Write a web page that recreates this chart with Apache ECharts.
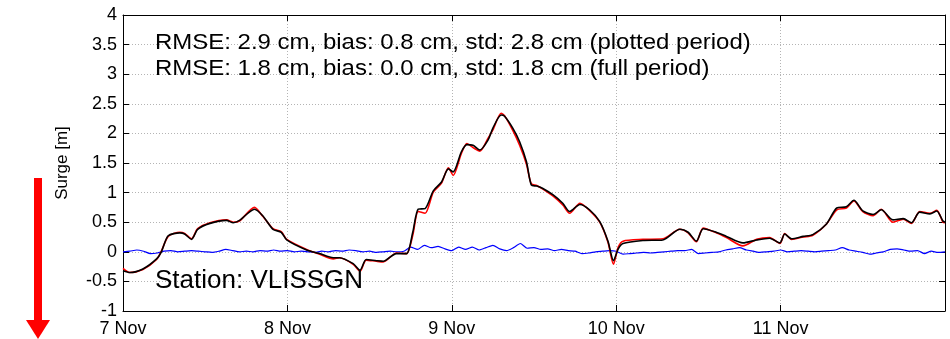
<!DOCTYPE html>
<html>
<head>
<meta charset="utf-8">
<script src="https://cdn.jsdelivr.net/npm/echarts@6/dist/echarts.min.js"></script>
<style>
  html, body { margin: 0; padding: 0; background: #fff; }
  #chart { width: 950px; height: 339px; }
</style>
</head>
<body>
<div id="chart"></div>
<script>
// Time in hours since 7 Nov 00:00
const hours = [0,1.0,2.9,4.9,5.6,6.6,8.3,9.0,10.0,10.9,12.7,15.1,16.1,17.0,19.2,20.4,21.9,23.1,23.9,26.8,
  28.7,30.7,31.6,33.6,34.6,35.5,37.0,38.0,39.9,41.4,42.3,43.1,44.1,45.3,46.5,47.5,48.2,49.4,50.2,51.1,
  52.1,53.3,54.0,55.2,55.7,56.9,57.9,58.9,59.6,60.4,61.3,62.8,64.2,65.2,66.7,68.1,69.6,70.8,71.6,72.3,
  73.0,75.9,78.8,81.3,82.5,83.7,84.7,86.6,88.1,90.5,92.5,94.4,95.9,96.6,97.6,99.3,100.7,102.7,104.2,105.6,
  106.7,108.0,109.5,110.7,112.4,113.9,115.1,116.3,117.8,118.8,119.7,120];

// Observed surge [m]
const observed = [-0.28,-0.35,-0.30,-0.13,0.01,0.26,0.33,0.31,0.22,0.39,
  0.49,0.54,0.50,0.52,0.75,0.60,0.39,0.34,0.21,0.04,
  -0.04,-0.12,-0.10,-0.21,-0.33,-0.14,-0.16,-0.17,-0.02,-0.03,
  0.28,0.68,0.65,1.01,1.16,1.42,1.29,1.66,1.83,1.76,
  1.70,1.92,2.06,2.34,2.30,2.05,1.80,1.48,1.15,1.12,
  1.06,0.94,0.79,0.65,0.82,0.70,0.50,0.16,-0.21,0.08,
  0.18,0.21,0.22,0.38,0.32,0.17,0.40,0.32,0.24,0.10,
  0.21,0.24,0.14,0.31,0.21,0.25,0.28,0.47,0.71,0.74,
  0.86,0.68,0.61,0.72,0.50,0.55,0.48,0.68,0.65,0.70,
  0.50,0.49];

// Modelled surge [m]
const modelled = [-0.32,-0.35,-0.29,-0.12,0.00,0.27,0.32,0.30,0.21,0.38,
  0.48,0.53,0.49,0.53,0.72,0.61,0.38,0.33,0.20,0.03,
  -0.03,-0.10,-0.10,-0.20,-0.31,-0.13,-0.15,-0.16,-0.03,-0.03,
  0.33,0.72,0.73,1.03,1.18,1.40,1.35,1.69,1.81,1.80,
  1.72,1.89,2.09,2.31,2.29,2.09,1.86,1.52,1.13,1.11,
  1.07,0.96,0.82,0.68,0.80,0.71,0.51,0.18,-0.15,0.05,
  0.14,0.19,0.20,0.38,0.33,0.18,0.39,0.33,0.26,0.15,
  0.20,0.23,0.15,0.30,0.22,0.26,0.29,0.47,0.74,0.76,
  0.87,0.69,0.63,0.71,0.54,0.56,0.49,0.67,0.64,0.69,
  0.52,0.50];

// Difference, sampled hourly from 7 Nov 00:00
const difference = [0.00,0.01,0.03,0.01,-0.03,-0.02,0.01,0.02,0.00,0.01,
  0.02,0.01,0.00,-0.01,0.01,0.04,0.02,0.00,0.01,0.00,
  0.02,0.01,0.03,0.01,0.02,0.00,0.01,0.00,-0.01,0.01,
  0.00,0.02,0.01,0.03,0.02,0.00,0.01,-0.01,0.00,0.01,
  0.00,0.01,0.08,0.04,0.11,0.07,0.09,0.05,0.02,0.08,
  0.04,0.08,0.03,0.07,0.11,0.05,0.02,0.07,0.14,0.06,
  0.07,0.04,0.05,0.02,0.04,0.02,0.01,-0.03,-0.02,0.00,
  0.01,0.02,0.01,-0.04,-0.03,-0.02,-0.01,-0.02,-0.01,0.00,
  0.01,0.02,0.02,0.04,-0.03,-0.02,-0.01,0.00,0.03,0.05,
  0.07,0.03,0.01,-0.01,0.00,0.01,0.03,0.00,0.01,0.02,
  0.01,0.00,0.01,0.02,0.03,0.07,0.03,0.01,-0.01,-0.04,
  -0.02,0.00,0.04,0.05,0.03,0.01,0.02,-0.03,0.01,-0.01,
  0.00];

const dayLabels = ['7 Nov', '8 Nov', '9 Nov', '10 Nov', '11 Nov', ''];
const statLines = [
  'RMSE: 2.9 cm, bias: 0.8 cm, std: 2.8 cm (plotted period)',
  'RMSE: 1.8 cm, bias: 0.0 cm, std: 1.8 cm (full period)'
];
const stationLabel = 'Station: VLISSGN';
const yTitle = 'Surge [m]';

const FONT = "'Liberation Sans', Arial, sans-serif";

const pairs = (xs, ys) => xs.map((x, i) => [x, ys[i]]);
const hourly = vals => vals.map((v, i) => [i, v]);

const gridLine = { show: true, lineStyle: { color: '#b4b4b4', type: [1, 2], width: 1 } };
const axisLine = { show: true, onZero: false, lineStyle: { color: '#000', width: 1 } };
const tickIn = { show: true, inside: true, length: 6, lineStyle: { color: '#000' } };

const chart = echarts.init(document.getElementById('chart'), null, { renderer: 'canvas' });
chart.setOption({
  animation: false,
  backgroundColor: '#fff',
  grid: { left: 123, right: 5, top: 15, bottom: 28, containLabel: false },
  xAxis: [{
    type: 'value', min: 0, max: 120, interval: 24,
    axisLine, axisTick: tickIn, splitLine: gridLine,
    axisLabel: {
      color: '#000', fontFamily: FONT, fontSize: 18, margin: 9,
      formatter: v => dayLabels[Math.round(v / 24)] || ''
    }
  }, {
    type: 'value', position: 'top', min: 0, max: 120, interval: 24,
    axisLine, axisTick: tickIn, splitLine: { show: false }, axisLabel: { show: false }
  }],
  yAxis: [{
    type: 'value', min: -1, max: 4, interval: 0.5,
    axisLine, axisTick: tickIn, splitLine: gridLine,
    axisLabel: { color: '#000', fontFamily: FONT, fontSize: 18, margin: 6 }
  }, {
    type: 'value', position: 'right', min: -1, max: 4, interval: 0.5,
    axisLine, axisTick: tickIn, splitLine: { show: false }, axisLabel: { show: false }
  }],
  series: [{
    type: 'line', name: 'difference', data: hourly(difference),
    showSymbol: false, smooth: 0.2, lineStyle: { color: '#0000ff', width: 1.2 }, z: 2
  }, {
    type: 'line', name: 'observed', data: pairs(hours, observed),
    showSymbol: false, smooth: 0.25, lineStyle: { color: '#ff0000', width: 1.6 }, z: 3
  }, {
    type: 'line', name: 'modelled', data: pairs(hours, modelled),
    showSymbol: false, smooth: 0.25, lineStyle: { color: '#000000', width: 1.6 }, z: 4
  }],
  graphic: [{
    type: 'text', x: 155, y: 32, scaleX: 1.09, z: 10,
    style: { text: statLines[0], fill: '#000', font: `22px ${FONT}`, align: 'left', verticalAlign: 'top' }
  }, {
    type: 'text', x: 155, y: 58, scaleX: 1.09, z: 10,
    style: { text: statLines[1], fill: '#000', font: `22px ${FONT}`, align: 'left', verticalAlign: 'top' }
  }, {
    type: 'text', x: 155, y: 268, z: 10,
    style: { text: stationLabel, fill: '#000', font: `26px ${FONT}`, align: 'left', verticalAlign: 'top' }
  }, {
    type: 'text', x: 62, y: 163, rotation: Math.PI / 2, z: 10,
    style: { text: yTitle, fill: '#000', font: `17px ${FONT}`, align: 'center', verticalAlign: 'middle' }
  }, {
    // red downward arrow beside the axis
    type: 'group', x: 26, y: 178, z: 10,
    children: [{
      type: 'rect', shape: { x: 8, y: 0, width: 8, height: 143 },
      style: { fill: '#ff0000' }
    }, {
      type: 'polygon', shape: { points: [[0, 142], [24, 142], [12, 161]] },
      style: { fill: '#ff0000' }
    }]
  }]
});
</script>
</body>
</html>
